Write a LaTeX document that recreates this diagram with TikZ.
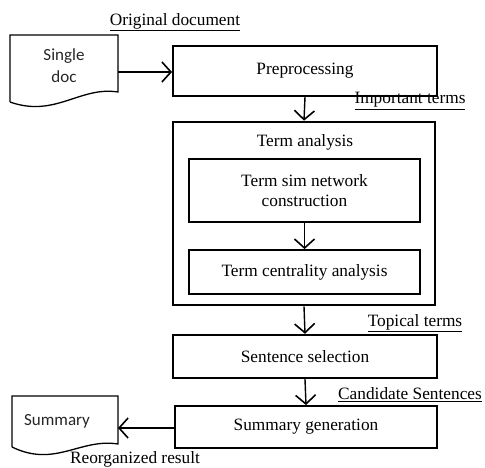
\documentclass[tikz,border=0pt]{standalone}
\usepackage{fontspec}
\setmainfont{Liberation Serif}
\newfontfamily\docfont{Carlito}
\usetikzlibrary{arrows.meta}
\begin{document}
\begin{tikzpicture}[x=1pt,y=-1pt,
  font=\fontsize{17.3}{19}\selectfont,
  procbox/.style={draw, line width=2pt, minimum width=264pt, minimum height=48pt, inner sep=0pt, align=center},
  innerbox/.style={draw, line width=1.8pt, minimum width=231pt, inner sep=0pt, align=center},
  docshape/.style={draw, line width=1.3pt},
  doctext/.style={font=\docfont\fontsize{17}{22}\selectfont, align=center, text=black!85},
  flow/.style={line width=1.4pt, -{Straight Barb[length=9pt,width=20pt,line width=1.6pt]}},
  lbl/.style={inner sep=0pt}
]
\useasboundingbox (0,0) rectangle (485,468);
% single doc
\draw[docshape] (10,102) -- (10,35) -- (118,35) -- (118,92) .. controls (80,86) and (55,118) .. (10,102);
\node[doctext] (single) at (64,66) {Single\\doc};
\coordinate (singleE) at (118,72);
\node[lbl] (orig) at (175,22) {\underline{Original document}};
% preprocessing
\node[procbox, minimum height=50pt] (pre) at (305,71) {Preprocessing};
\node[lbl] (imp) at (410,101) {\underline{Important terms}};
% term analysis
\node[draw, line width=2.6pt, minimum width=262pt, minimum height=183pt, inner sep=0pt] (outer) at (304,213.5) {};
\node[lbl] (ta) at (305,142) {Term analysis};
\node[innerbox, minimum height=63pt] (in1) at (304.5,190.5) {Term sim network\\[1pt]construction};
\node[innerbox, minimum height=44pt] (in2) at (304.5,272) {Term centrality analysis};
\node[lbl] (top) at (415,323) {\underline{Topical terms}};
% sentence selection
\node[procbox, line width=2.4pt, minimum height=43pt] (sel) at (305,356.5) {Sentence selection};
\node[lbl] (cand) at (410,395) {\underline{Candidate Sentences}};
% summary generation
\node[procbox, line width=1.8pt, minimum width=262pt, minimum height=42pt] (gen) at (306,427) {Summary generation};
% summary doc
\draw[docshape] (12,447) -- (12,396) -- (118,396) -- (118,444) .. controls (80,438) and (55,468) .. (12,447);
\node[doctext] (summ) at (57,421) {Summary};
\coordinate (summE) at (118,428);
\node[lbl] (reorg) at (135,459) {Reorganized result};
% connectors
\draw[flow] (singleE) -- (singleE -| pre.west);
\draw[flow] (pre.south) -- (outer.north);
\draw[flow] (in1.south) -- (in2.north);
\draw[flow] (outer.south) -- (sel.north);
\draw[flow] (sel.south) -- (gen.north);
\draw[flow] (gen.west |- summE) -- (summE);
\end{tikzpicture}
\end{document}
